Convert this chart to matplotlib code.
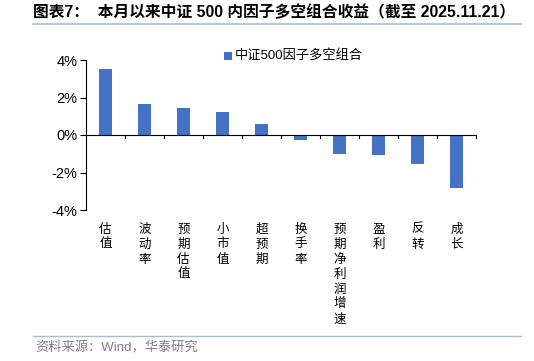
import matplotlib
matplotlib.use("Agg")
import matplotlib.pyplot as plt
from matplotlib.patches import Rectangle
from matplotlib.lines import Line2D

plt.rcParams['font.family'] = ['Noto Sans CJK SC', 'DejaVu Sans']

categories = ["估值", "波动率", "预期估值", "小市值", "超预期", "换手率", "预期净利润增速", "盈利", "反转", "成长"]
values = [3.50, 1.64, 1.42, 1.21, 0.60, -0.28, -1.00, -1.05, -1.53, -2.84]
yticks = [4, 2, 0, -2, -4]
ytick_labels = ["4%", "2%", "0%", "-2%", "-4%"]
series_name = "中证500因子多空组合"
title = "图表7：  本月以来中证 500 内因子多空组合收益（截至 2025.11.21）"
source = "资料来源：Wind，华泰研究"

latin_first = ['Liberation Sans', 'Noto Sans CJK SC', 'DejaVu Sans']

W, H = 534, 361
fig = plt.figure(figsize=(W / 100, H / 100), dpi=100)

ax_l, ax_r = 86 / W, 476 / W
ax_t, ax_b = 1 - 60 / H, 1 - 210 / H
ax = fig.add_axes([ax_l, ax_b, ax_r - ax_l, ax_t - ax_b])

n = len(categories)
xs = list(range(n))
bar_color = "#4472C4"
ax.bar(xs, values, width=0.32, color=bar_color, zorder=3)

ax.set_xlim(-0.5, n - 0.5)
ax.set_ylim(-4, 4)
ax.set_yticks(yticks)
ax.set_yticklabels(ytick_labels, fontfamily=['Liberation Sans', 'DejaVu Sans'], fontsize=10.5)
ax.tick_params(axis='y', direction='out', length=4, width=0.8, pad=2)
ax.set_xticks([])

for s in ['top', 'right', 'bottom']:
    ax.spines[s].set_visible(False)
ax.spines['left'].set_linewidth(0.8)
ax.spines['left'].set_color('black')

ax.axhline(0, color='black', linewidth=0.8, zorder=4)
for b in range(1, n + 1):
    ax.plot([b - 0.5, b - 0.5], [0, -0.18], color='black', linewidth=0.8, clip_on=False, zorder=4)

for i, cat in enumerate(categories):
    xf = ax_l + (i + 0.5) / n * (ax_r - ax_l)
    for j, ch in enumerate(cat):
        fig.text(xf, 1 - (229 + 15 * j) / H, ch, ha='center', va='center', fontsize=9, color='black')

fig.patches.append(Rectangle((224 / W, 1 - 60 / H), 8 / W, 8 / H, transform=fig.transFigure,
                             facecolor=bar_color, edgecolor='none'))
fig.text(235 / W, 1 - 56 / H, series_name, ha='left', va='center', fontsize=9.5, color='black',
         fontfamily=latin_first)

fig.text(33 / W, 1 - 12 / H, title, ha='left', va='center', fontsize=11.3, fontweight='bold', color='black',
         fontfamily=latin_first)
fig.add_artist(Line2D([33 / W, 521 / W], [1 - 23.5 / H, 1 - 23.5 / H], transform=fig.transFigure,
                      color='#A9BCD6', linewidth=1.2))

fig.add_artist(Line2D([33 / W, 521 / W], [1 - 336 / H, 1 - 336 / H], transform=fig.transFigure,
                      color='#A9BCD6', linewidth=1.0))
fig.text(35 / W, 1 - 348 / H, source, ha='left', va='center', fontsize=9.5, color='#808080',
         fontfamily=latin_first)

fig.savefig("out.png", dpi=100)
